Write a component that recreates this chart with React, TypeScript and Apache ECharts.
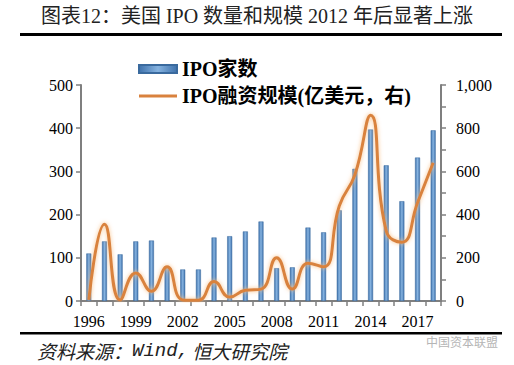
import React, { useEffect, useRef } from "react";
import * as echarts from "echarts";

const years = ["1996","1997","1998","1999","2000","2001","2002","2003","2004","2005","2006","2007","2008","2009","2010","2011","2012","2013","2014","2015","2016","2017","2018"];
const ipoCount = [110, 138, 108, 138, 140, 79, 73, 73, 147, 150, 161, 184, 76, 78, 170, 159, 210, 306, 397, 314, 231, 332, 395];
const ipoAmount = [5, 355, 5, 130, 45, 158, 5, 3, 90, 18, 50, 55, 200, 55, 175, 158, 440, 585, 860, 325, 272, 455, 640];
const leftTicks = { min: 0, max: 500, interval: 100 };
const rightTicks = { min: 0, max: 1000, interval: 100, labelStep: 200 };

const titleText = "图表12：美国 IPO 数量和规模 2012 年后显著上涨";
const barName = "IPO家数";
const lineName = "IPO融资规模(亿美元，右)";

const serif = "'Liberation Serif', 'Noto Sans CJK SC', serif";

export default function App() {
  const ref = useRef<HTMLDivElement>(null);
  useEffect(() => {
    if (!ref.current) return;
    const chart = echarts.init(ref.current, null, { renderer: "svg" });
    const barColor = new echarts.graphic.LinearGradient(0, 0, 1, 0, [
      { offset: 0, color: "#3F72AC" },
      { offset: 0.5, color: "#86B3E0" },
      { offset: 1, color: "#3F72AC" },
    ]);
    const axisLine = { show: true, lineStyle: { color: "#7f7f7f", width: 2 } };
    const axisTick = { show: true, inside: false, length: 5, lineStyle: { color: "#7f7f7f", width: 1.5 } };
    chart.setOption({
      animation: false,
      backgroundColor: "#ffffff",
      grid: { left: 81, right: 73, top: 85, bottom: 64 },
      legend: {
        orient: "vertical",
        left: 133,
        top: 54,
        itemWidth: 38,
        itemHeight: 8,
        itemGap: 7,
        textStyle: { fontSize: 20, fontWeight: "bold", color: "#000", fontFamily: serif },
        data: [
          { name: barName, icon: "rect" },
          {
            name: lineName,
            icon: "path://M0,2.6H38V5.4H0Z M0,0H0.01V0.01H0Z M0,7.99H0.01V8H0Z",
            itemStyle: { color: "#D9823E" },
          },
        ],
      },
      xAxis: {
        type: "category",
        data: years,
        boundaryGap: true,
        axisLine,
        axisTick: { ...axisTick, interval: 0 },
        axisLabel: { interval: 2, fontSize: 16, color: "#000", fontFamily: serif, margin: 12 },
        splitLine: { show: false },
      },
      yAxis: [
        {
          type: "value",
          ...leftTicks,
          axisLine,
          axisTick,
          splitLine: { show: false },
          axisLabel: { fontSize: 16, color: "#000", fontFamily: serif, margin: 8 },
        },
        {
          type: "value",
          min: rightTicks.min,
          max: rightTicks.max,
          interval: rightTicks.interval,
          position: "right",
          axisLine,
          axisTick,
          splitLine: { show: false },
          axisLabel: {
            fontSize: 16,
            color: "#000",
            fontFamily: serif,
            margin: 15,
            formatter: (v: number) => (v % rightTicks.labelStep === 0 ? v.toLocaleString("en-US") : ""),
          },
        },
      ],
      series: [
        {
          name: barName,
          type: "bar",
          data: ipoCount,
          barWidth: 5,
          itemStyle: { color: barColor, borderColor: "#3A6A9E", borderWidth: 0.5 },
        },
        {
          name: lineName,
          type: "line",
          yAxisIndex: 1,
          data: ipoAmount,
          smooth: 0.5,
          symbol: "none",
          showSymbol: false,
          lineStyle: {
            color: "#D9823E",
            width: 3,
            shadowColor: "rgba(248,190,130,0.95)",
            shadowBlur: 4,
          },
          itemStyle: { color: "#D9823E" },
          z: 3,
        },
      ],
      graphic: [
        {
          type: "text",
          left: "center",
          top: 6,
          style: { text: titleText, fontSize: 20, fill: "#222", fontFamily: serif },
        },
        {
          type: "rect",
          shape: { x: 20, y: 33, width: 482, height: 3 },
          style: { fill: "#000" },
        },
        {
          type: "rect",
          shape: { x: 20, y: 332, width: 482, height: 2.5 },
          style: { fill: "#000" },
        },
        {
          type: "text",
          x: 37,
          y: 341,
          style: {
            text: "{a|资料来源：}{b|Wind,} {a|恒大研究院}",
            rich: {
              a: { fontSize: 19, fontStyle: "italic", fill: "#222", fontFamily: "'Noto Sans CJK SC', sans-serif" },
              b: { fontSize: 19, fontStyle: "italic", fill: "#222", fontFamily: "'Liberation Mono', monospace" },
            },
          },
        },
        {
          type: "text",
          x: 426,
          y: 335,
          style: { text: "中国资本联盟", fontSize: 12, fill: "#b5b5b5", fontFamily: "'Noto Sans CJK SC', sans-serif" },
        },
      ],
    });
    return () => chart.dispose();
  }, []);
  return <div ref={ref} style={{ position: "fixed", left: 0, top: 0, width: 514, height: 365, background: "#fff" }} />;
}
